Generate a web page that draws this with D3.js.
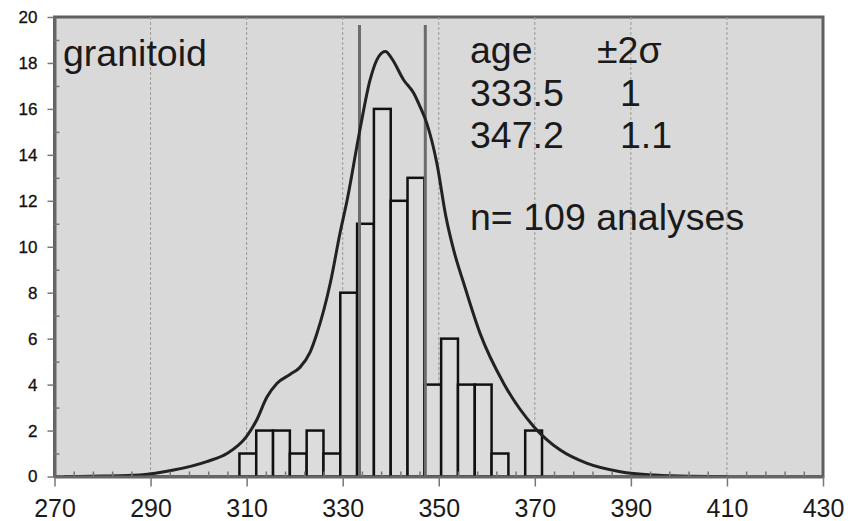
<!DOCTYPE html>
<html>
<head>
<meta charset="utf-8">
<script src="https://cdn.jsdelivr.net/npm/d3@7"></script>
<style>
  body { margin: 0; background: #fff; }
  svg { display: block; font-family: "Liberation Sans", Arial, sans-serif; }
</style>
</head>
<body>
<div id="chart"></div>
<script>
// histogram bins (Ma), width 3.5
const binStarts = [308.5, 312, 315.5, 319, 322.5, 326, 329.5, 333, 336.5, 340, 343.5, 347, 350.5, 354, 357.5, 361, 364.5, 368];
const binWidth = 3.5;
const counts = [1, 2, 2, 1, 2, 1, 8, 11, 16, 12, 13, 4, 6, 4, 4, 1, 0, 2];

// probability density curve
const curveAge = [272, 280, 287.8, 294.8, 301.7, 305.9, 310, 312.1, 314.2, 316.3, 319.1, 321.1, 323.2, 324.6, 327.4, 329.5, 330.9, 333.6, 335.7, 337.5, 338.9, 340.2, 342.7, 344.8, 346.1, 347.5, 349.6, 351.5, 353.1, 355.2, 358.6, 363.5, 369.8, 375.3, 380.9, 387.8, 395, 402, 410];
const curveProb = [0, 0.02, 0.07, 0.28, 0.65, 1.0, 1.75, 2.46, 3.45, 4.05, 4.45, 4.75, 5.4, 6.2, 8.4, 10.65, 12.0, 15.1, 17.26, 18.28, 18.5, 18.2, 17.26, 16.68, 16.1, 15.38, 13.64, 11.3, 9.86, 8.41, 6.23, 4.06, 2.17, 1.15, 0.57, 0.21, 0.06, 0.01, 0];

const peakAges = [333.5, 347.2];
const peakErrs = ["1", "1.1"];
const markerTop = 19.65;

const xTicks = [270, 290, 310, 330, 350, 370, 390, 410, 430];
const yTicks = [0, 2, 4, 6, 8, 10, 12, 14, 16, 18, 20];
const gridTicks = [290, 310, 330, 350, 370, 390, 410];

const W = 860, H = 521;
const margin = { top: 17, right: 37, bottom: 44.5, left: 54.5 };

const svg = d3.select("#chart").append("svg")
    .attr("width", W)
    .attr("height", H);

const x = d3.scaleLinear().domain([270, 430]).range([margin.left, W - margin.right]);
const y = d3.scaleLinear().domain([0, 20]).range([H - margin.bottom, margin.top]);

// plot background + frame
svg.append("rect")
    .attr("x", x(270)).attr("y", y(20))
    .attr("width", x(430) - x(270)).attr("height", y(0) - y(20))
    .attr("fill", "#d9d9d9")
    .attr("stroke", "#5f5f5f")
    .attr("stroke-width", 3);

// dashed vertical grid
svg.append("g").selectAll("line")
  .data(gridTicks)
  .enter().append("line")
    .attr("x1", d => x(d)).attr("x2", d => x(d))
    .attr("y1", y(20)).attr("y2", y(0))
    .attr("stroke", "#9a9a9a")
    .attr("stroke-width", 1)
    .attr("stroke-dasharray", "3,2");

// bars
svg.append("g").selectAll("rect")
  .data(binStarts.map((b, i) => ({ start: b, n: counts[i] })).filter(d => d.n > 0))
  .enter().append("rect")
    .attr("x", d => x(d.start))
    .attr("y", d => y(d.n))
    .attr("width", d => x(d.start + binWidth) - x(d.start))
    .attr("height", d => y(0) - y(d.n))
    .attr("fill", "#dcdcdc")
    .attr("stroke", "#111")
    .attr("stroke-width", 2.5);

// peak age markers
svg.append("g").selectAll("line")
  .data(peakAges)
  .enter().append("line")
    .attr("x1", d => x(d)).attr("x2", d => x(d))
    .attr("y1", y(markerTop)).attr("y2", y(0))
    .attr("stroke", "#6c6c6c")
    .attr("stroke-width", 3);

// density curve
const line = d3.line()
    .x(d => x(d[0]))
    .y(d => y(d[1]))
    .curve(d3.curveMonotoneX);

svg.append("path")
    .datum(curveAge.map((a, i) => [a, curveProb[i]]))
    .attr("d", line)
    .attr("fill", "none")
    .attr("stroke", "#222")
    .attr("stroke-width", 3);

// axes
const xAxis = svg.append("g")
    .attr("transform", "translate(0," + y(0) + ")")
    .call(d3.axisBottom(x).tickValues(xTicks).tickSize(10).tickSizeOuter(0));
xAxis.select(".domain").attr("stroke", "#666").attr("stroke-width", 3);
xAxis.selectAll(".tick line").attr("stroke", "#777").attr("stroke-width", 1.5);
xAxis.selectAll(".tick text")
    .attr("y", 40).attr("dy", 0)
    .attr("font-size", 25)
    .attr("fill", "#1a1a1a");

svg.append("g")
    .attr("transform", "translate(0," + y(0) + ")")
    .call(d3.axisBottom(x).tickValues(d3.range(274, 430, 4).filter(v => (v - 270) % 20 !== 0)).tickSize(-5).tickFormat(""))
    .call(g => g.select(".domain").remove())
    .selectAll(".tick line").attr("stroke", "#777").attr("stroke-width", 1.5);

const yAxis = svg.append("g")
    .attr("transform", "translate(" + x(270) + ",0)")
    .call(d3.axisLeft(y).tickValues(yTicks).tickSize(7).tickSizeOuter(0));
yAxis.select(".domain").attr("stroke", "#666").attr("stroke-width", 3);
yAxis.selectAll(".tick line").attr("stroke", "#777").attr("stroke-width", 1.5);
yAxis.selectAll(".tick text")
    .attr("x", -17)
    .attr("font-size", 17)
    .attr("fill", "#111")
    .attr("stroke", "#111")
    .attr("stroke-width", 0.3);

svg.append("g")
    .attr("transform", "translate(" + x(270) + ",0)")
    .call(d3.axisLeft(y).tickValues(d3.range(1, 20, 2)).tickSize(-5).tickFormat(""))
    .call(g => g.select(".domain").remove())
    .selectAll(".tick line").attr("stroke", "#777").attr("stroke-width", 1.5);

// annotations
const txt = (tx, ty, s) => svg.append("text")
    .attr("x", tx).attr("y", ty)
    .attr("font-size", 37.5)
    .attr("fill", "#1a1a1a")
    .text(s);

txt(63, 66, "granitoid");
txt(470, 63, "age");
txt(597, 63, "±2σ");
peakAges.forEach((a, i) => {
    txt(470, 106 + i * 42, a.toFixed(1));
    txt(620, 106 + i * 42, peakErrs[i]);
});
txt(470, 230, "n= 109 analyses");
</script>
</body>
</html>
